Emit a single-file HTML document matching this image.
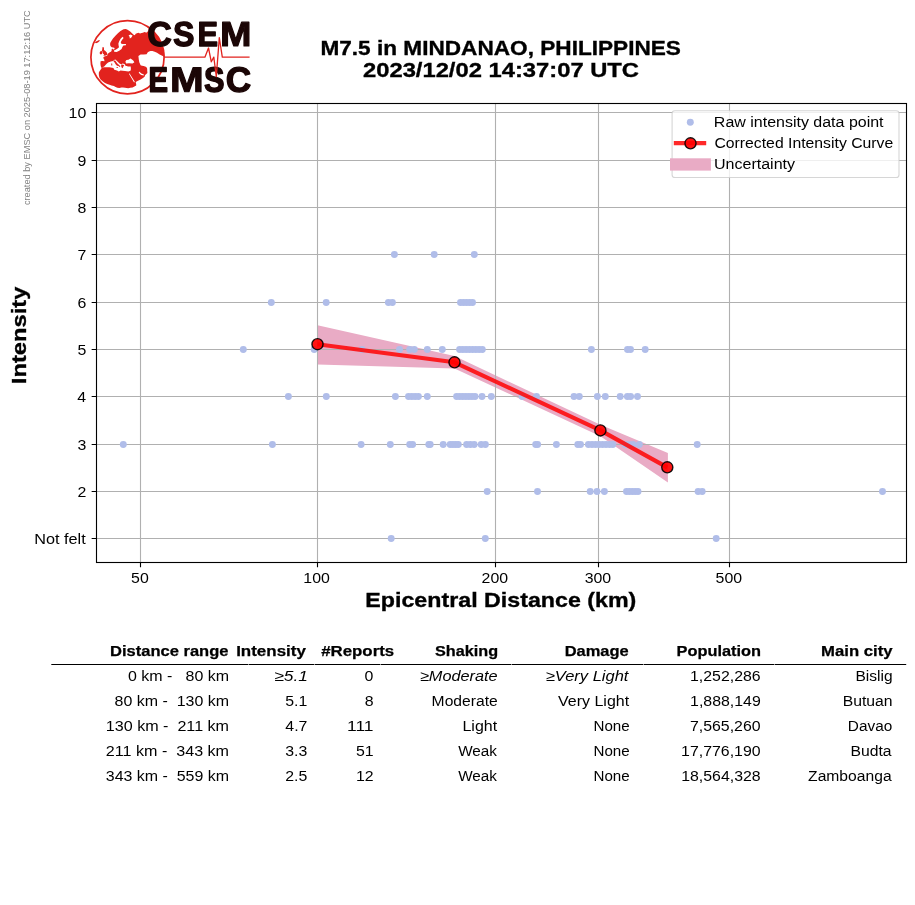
<!DOCTYPE html>
<html><head><meta charset="utf-8"><title>EMSC intensity</title>
<style>html,body{margin:0;padding:0;background:#fff;}svg{display:block;will-change:transform;}text{font-family:"Liberation Sans",sans-serif;white-space:pre;}</style>
</head><body>
<svg width="915" height="905" viewBox="0 0 915 905" font-family="Liberation Sans, sans-serif">
<rect x="0" y="0" width="915" height="905" fill="#fff"/>
<text x="0" y="0" font-size="9.54" font-weight="normal" font-style="normal" textLength="194.85" lengthAdjust="spacingAndGlyphs" fill="#808080" transform="translate(29.90,205.09) rotate(-90)" >created by EMSC on 2025-08-19 17:12:16 UTC</text>
<g><circle cx="127.5" cy="57.3" r="36.6" fill="none" stroke="#e2231e" stroke-width="1.7"/><path d="M111.7,47.3 L110.4,46.1 L110.1,44.5 L110.2,43.0 L111.5,40.8 L113.0,38.6 L115.2,35.9 L117.9,33.3 L120.5,31.1 L122.2,30.0 L123.6,29.3 L125.8,28.9 L127.6,29.7 L128.7,30.4 L130.2,31.6 L132.0,33.2 L133.6,34.8 L134.8,35.2 L135.7,33.8 L137.0,33.2 L138.4,32.8 L140.1,33.6 L141.5,33.0 L142.8,32.7 L144.6,32.0 L146.0,32.6 L146.8,32.6 L148.1,31.0 L148.8,28.6 A35.9,35.9 0 0 1 164.6,57.0 L162.2,55.8 L159.6,54.5 L157.0,52.7 L154.7,51.8 L152.5,51.0 L150.5,51.0 L149.0,51.4 L147.6,52.4 L146.6,54.3 L143.7,54.6 L140.6,54.4 L138.4,56.1 L138.8,59.5 L139.3,62.2 L140.6,65.3 L142.0,65.8 L143.7,66.1 L146.3,67.0 L147.2,68.8 L147.2,70.6 L147.4,73.0 L145.8,74.4 L145.0,75.2 L144.6,76.8 L142.6,78.2 L140.6,79.4 L138.0,80.8 L135.7,82.1 L136.2,84.2 L136.2,85.6 L134.4,86.6 L132.6,87.4 L130.4,87.8 L128.2,88.2 L125.0,87.8 L123.0,87.6 L121.4,87.4 L119.4,87.9 L117.4,87.8 L115.6,86.9 L113.9,86.0 L111.6,85.4 L109.5,84.7 L107.2,84.0 L105.0,83.0 L102.6,81.2 L100.6,79.4 L99.4,77.4 L98.9,75.4 L98.8,73.8 L98.9,72.3 L100.2,70.2 L101.5,68.4 L101.4,67.4 L100.8,66.2 L100.6,65.3 L100.4,63.4 L100.6,61.3 L102.2,61.0 L104.5,61.2 L104.2,59.6 L103.3,58.0 L103.6,57.0 L105.0,56.3 L106.6,56.0 L107.4,55.2 L108.1,53.6 L109.4,52.6 L110.8,51.8 L111.6,51.0 L111.6,49.6 L112.2,48.6 L113.2,49.4 L114.4,49.2 L114.6,48.4 L114.2,47.8 L113.0,47.6 Z M94.8,42.6 L96.5,41.2 L99.2,40.1 L99.9,40.7 L98.0,42.4 L96.0,43.3 Z M102.2,47.4 L103.6,47.0 L104.0,48.6 L104.0,50.0 L105.4,51.0 L106.8,52.6 L107.6,54.4 L106.0,55.4 L103.4,55.8 L104.2,54.6 L103.0,53.8 L102.8,52.2 L101.8,50.4 L102.4,49.0 Z M100.0,51.6 L101.8,51.0 L102.5,52.4 L102.0,54.0 L100.6,54.6 L99.6,53.2 Z" fill="#e2231e"/><path d="M122.6,36.8 L120.6,38.8 L119.2,41.2 L118.4,43.4 L118.6,45.6 L119.0,47.2 L117.6,48.6 L115.6,49.8 L113.9,50.6 L114.2,51.8 L116.6,51.9 L119.2,50.8 L121.6,49.0 L122.4,47.0 L123.4,45.6 L125.9,45.2 L126.0,43.9 L122.6,44.0 L121.0,43.4 L120.8,42.0 L122.0,40.0 L123.6,38.0 Z M128.6,35.4 L130.4,34.6 L132.6,35.6 L131.4,37.4 L129.8,38.4 L129.6,36.8 Z M102.0,67.6 L104.2,66.5 L106.4,64.0 L108.1,62.4 L110.8,61.6 L113.2,61.0 L114.0,60.0 L115.4,59.4 L117.5,61.6 L119.5,63.4 L121.2,64.2 L122.6,63.6 L124.5,64.0 L125.5,65.6 L128.0,66.6 L130.7,66.6 L130.9,68.8 L130.7,70.6 L128.5,71.4 L125.0,71.0 L122.6,70.8 L120.5,70.6 L118.8,71.4 L117.0,70.6 L114.3,69.7 L113.4,67.9 L109.5,67.2 L104.2,67.3 Z M125.4,61.4 L126.4,59.9 L128.5,59.8 L130.4,58.6 L132.0,59.4 L133.2,60.6 L134.4,62.2 L132.6,63.5 L129.0,63.2 L126.0,63.5 Z M128.9,73.8 L129.6,73.6 L134.8,81.8 L134.1,82.4 Z M138.6,72.0 L139.4,71.8 L141.4,73.6 L143.9,74.6 L143.7,75.5 L141.2,75.0 L139.6,73.8 Z" fill="#fff"/><path d="M113.6,60.4 L115.2,60.6 L117.2,63.2 L119.6,65.4 L120.4,66.4 L119.4,66.9 L118.6,66.0 L117.0,65.8 L115.6,64.2 L114.6,62.6 L113.6,61.4 Z M121.2,64.4 L123.2,64.8 L124.2,65.2 L123.4,66.5 L122.6,68.2 L121.6,67.6 L121.2,66.2 Z M116.4,67.0 L118.0,66.9 L117.6,67.9 L116.6,67.8 Z M111.2,63.6 L112.2,63.5 L112.3,65.5 L111.3,65.6 Z M125.4,64.0 L130.6,64.0 L130.6,66.0 L125.6,65.8 Z" fill="#e2231e"/><path d="M795 212Q1062 212 1166 480L1423 383Q1340 179 1179.5 79.5Q1019 -20 795 -20Q455 -20 269.5 172.5Q84 365 84 711Q84 1058 263.0 1244.0Q442 1430 782 1430Q1030 1430 1186.0 1330.5Q1342 1231 1405 1038L1145 967Q1112 1073 1015.5 1135.5Q919 1198 788 1198Q588 1198 484.5 1074.0Q381 950 381 711Q381 468 487.5 340.0Q594 212 795 212Z" fill="#1b0606" stroke="#1b0606" stroke-width="78.76" stroke-linejoin="round" transform="matrix(0.016505,0,0,-0.016828,147.364,45.913)"/><path d="M1286 406Q1286 199 1132.5 89.5Q979 -20 682 -20Q411 -20 257.0 76.0Q103 172 59 367L344 414Q373 302 457.0 251.5Q541 201 690 201Q999 201 999 389Q999 449 963.5 488.0Q928 527 863.5 553.0Q799 579 616 616Q458 653 396.0 675.5Q334 698 284.0 728.5Q234 759 199.0 802.0Q164 845 144.5 903.0Q125 961 125 1036Q125 1227 268.5 1328.5Q412 1430 686 1430Q948 1430 1079.5 1348.0Q1211 1266 1249 1077L963 1038Q941 1129 873.5 1175.0Q806 1221 680 1221Q412 1221 412 1053Q412 998 440.5 963.0Q469 928 525.0 903.5Q581 879 752 842Q955 799 1042.5 762.5Q1130 726 1181.0 677.5Q1232 629 1259.0 561.5Q1286 494 1286 406Z" fill="#1b0606" stroke="#1b0606" stroke-width="83.51" stroke-linejoin="round" transform="matrix(0.015566,0,0,-0.016828,173.132,45.913)"/><path d="M137 0V1409H1245V1181H432V827H1184V599H432V228H1286V0Z" fill="#1b0606" stroke="#1b0606" stroke-width="87.35" stroke-linejoin="round" transform="matrix(0.014883,0,0,-0.016891,197.611,45.950)"/><path d="M1307 0V854Q1307 883 1307.5 912.0Q1308 941 1317 1161Q1246 892 1212 786L958 0H748L494 786L387 1161Q399 929 399 854V0H137V1409H532L784 621L806 545L854 356L917 582L1176 1409H1569V0Z" fill="#1b0606" stroke="#1b0606" stroke-width="71.05" stroke-linejoin="round" transform="matrix(0.018296,0,0,-0.016891,220.143,45.950)"/><path d="M137 0V1409H1245V1181H432V827H1184V599H432V228H1286V0Z" fill="#1b0606" stroke="#1b0606" stroke-width="91.08" stroke-linejoin="round" transform="matrix(0.014273,0,0,-0.017246,148.495,91.750)"/><path d="M1307 0V854Q1307 883 1307.5 912.0Q1308 941 1317 1161Q1246 892 1212 786L958 0H748L494 786L387 1161Q399 929 399 854V0H137V1409H532L784 621L806 545L854 356L917 582L1176 1409H1569V0Z" fill="#1b0606" stroke="#1b0606" stroke-width="66.01" stroke-linejoin="round" transform="matrix(0.019693,0,0,-0.017246,170.052,91.750)"/><path d="M1286 406Q1286 199 1132.5 89.5Q979 -20 682 -20Q411 -20 257.0 76.0Q103 172 59 367L344 414Q373 302 457.0 251.5Q541 201 690 201Q999 201 999 389Q999 449 963.5 488.0Q928 527 863.5 553.0Q799 579 616 616Q458 653 396.0 675.5Q334 698 284.0 728.5Q234 759 199.0 802.0Q164 845 144.5 903.0Q125 961 125 1036Q125 1227 268.5 1328.5Q412 1430 686 1430Q948 1430 1079.5 1348.0Q1211 1266 1249 1077L963 1038Q941 1129 873.5 1175.0Q806 1221 680 1221Q412 1221 412 1053Q412 998 440.5 963.0Q469 928 525.0 903.5Q581 879 752 842Q955 799 1042.5 762.5Q1130 726 1181.0 677.5Q1232 629 1259.0 561.5Q1286 494 1286 406Z" fill="#1b0606" stroke="#1b0606" stroke-width="87.16" stroke-linejoin="round" transform="matrix(0.014914,0,0,-0.017172,204.070,91.707)"/><path d="M795 212Q1062 212 1166 480L1423 383Q1340 179 1179.5 79.5Q1019 -20 795 -20Q455 -20 269.5 172.5Q84 365 84 711Q84 1058 263.0 1244.0Q442 1430 782 1430Q1030 1430 1186.0 1330.5Q1342 1231 1405 1038L1145 967Q1112 1073 1015.5 1135.5Q919 1198 788 1198Q588 1198 484.5 1074.0Q381 950 381 711Q381 468 487.5 340.0Q594 212 795 212Z" fill="#1b0606" stroke="#1b0606" stroke-width="76.01" stroke-linejoin="round" transform="matrix(0.017102,0,0,-0.017172,225.813,91.707)"/><path d="M164.2,57.2 L204.9,57.2 L208.5,48.0 L211.3,61.8 L213.8,57.1 L216.3,76.6 L219.3,37.6 L222.3,57.1 L249.6,57.2" fill="none" stroke="#e2231e" stroke-width="1.3" stroke-linejoin="round"/></g>
<text x="320.40" y="55.00" font-size="20.60" font-weight="bold" font-style="normal" textLength="360.58" lengthAdjust="spacingAndGlyphs" fill="#000" stroke="#000" stroke-width="0.35" >M7.5 in MINDANAO, PHILIPPINES</text>
<text x="363.00" y="77.00" font-size="20.60" font-weight="bold" font-style="normal" textLength="276.03" lengthAdjust="spacingAndGlyphs" fill="#000" stroke="#000" stroke-width="0.35" >2023/12/02 14:37:07 UTC</text>
<path d="M317.50,325.30 L454.50,356.00 L600.40,424.70 L667.90,453.00 L667.90,482.50 L600.40,436.30 L454.50,368.50 L317.50,364.40 Z" fill="#e9abc5"/>
<path d="M140.50,103.50 V562.50 M317.50,103.50 V562.50 M495.50,103.50 V562.50 M598.50,103.50 V562.50 M729.50,103.50 V562.50 M96.50,538.50 H906.50 M96.50,491.50 H906.50 M96.50,444.50 H906.50 M96.50,396.50 H906.50 M96.50,349.50 H906.50 M96.50,302.50 H906.50 M96.50,254.50 H906.50 M96.50,207.50 H906.50 M96.50,160.50 H906.50 M96.50,112.50 H906.50" stroke="#b0b0b0" stroke-width="1.11" fill="none"/>
<g fill="#b0bde9"><circle cx="394.40" cy="254.50" r="3.47"/><circle cx="434.20" cy="254.50" r="3.47"/><circle cx="474.30" cy="254.50" r="3.47"/><circle cx="271.30" cy="302.50" r="3.47"/><circle cx="326.20" cy="302.50" r="3.47"/><circle cx="388.40" cy="302.50" r="3.47"/><circle cx="392.40" cy="302.50" r="3.47"/><circle cx="460.50" cy="302.50" r="3.47"/><circle cx="463.50" cy="302.50" r="3.47"/><circle cx="466.50" cy="302.50" r="3.47"/><circle cx="469.50" cy="302.50" r="3.47"/><circle cx="472.50" cy="302.50" r="3.47"/><circle cx="243.30" cy="349.50" r="3.47"/><circle cx="314.20" cy="349.50" r="3.47"/><circle cx="362.00" cy="349.50" r="3.47"/><circle cx="399.50" cy="349.50" r="3.47"/><circle cx="409.70" cy="349.50" r="3.47"/><circle cx="414.30" cy="349.50" r="3.47"/><circle cx="427.30" cy="349.50" r="3.47"/><circle cx="442.30" cy="349.50" r="3.47"/><circle cx="459.60" cy="349.50" r="3.47"/><circle cx="462.84" cy="349.50" r="3.47"/><circle cx="466.09" cy="349.50" r="3.47"/><circle cx="469.33" cy="349.50" r="3.47"/><circle cx="472.57" cy="349.50" r="3.47"/><circle cx="475.81" cy="349.50" r="3.47"/><circle cx="479.06" cy="349.50" r="3.47"/><circle cx="482.30" cy="349.50" r="3.47"/><circle cx="591.40" cy="349.50" r="3.47"/><circle cx="627.50" cy="349.50" r="3.47"/><circle cx="630.50" cy="349.50" r="3.47"/><circle cx="645.20" cy="349.50" r="3.47"/><circle cx="288.40" cy="396.50" r="3.47"/><circle cx="326.30" cy="396.50" r="3.47"/><circle cx="395.40" cy="396.50" r="3.47"/><circle cx="408.50" cy="396.50" r="3.47"/><circle cx="411.80" cy="396.50" r="3.47"/><circle cx="415.10" cy="396.50" r="3.47"/><circle cx="418.40" cy="396.50" r="3.47"/><circle cx="427.30" cy="396.50" r="3.47"/><circle cx="456.60" cy="396.50" r="3.47"/><circle cx="459.67" cy="396.50" r="3.47"/><circle cx="462.73" cy="396.50" r="3.47"/><circle cx="465.80" cy="396.50" r="3.47"/><circle cx="468.87" cy="396.50" r="3.47"/><circle cx="471.93" cy="396.50" r="3.47"/><circle cx="475.00" cy="396.50" r="3.47"/><circle cx="482.00" cy="396.50" r="3.47"/><circle cx="491.30" cy="396.50" r="3.47"/><circle cx="522.10" cy="396.50" r="3.47"/><circle cx="536.50" cy="396.50" r="3.47"/><circle cx="574.00" cy="396.50" r="3.47"/><circle cx="579.30" cy="396.50" r="3.47"/><circle cx="597.40" cy="396.50" r="3.47"/><circle cx="605.30" cy="396.50" r="3.47"/><circle cx="620.20" cy="396.50" r="3.47"/><circle cx="627.40" cy="396.50" r="3.47"/><circle cx="630.60" cy="396.50" r="3.47"/><circle cx="637.50" cy="396.50" r="3.47"/><circle cx="123.30" cy="444.50" r="3.47"/><circle cx="272.40" cy="444.50" r="3.47"/><circle cx="361.10" cy="444.50" r="3.47"/><circle cx="390.30" cy="444.50" r="3.47"/><circle cx="409.70" cy="444.50" r="3.47"/><circle cx="412.60" cy="444.50" r="3.47"/><circle cx="428.80" cy="444.50" r="3.47"/><circle cx="430.20" cy="444.50" r="3.47"/><circle cx="443.20" cy="444.50" r="3.47"/><circle cx="450.20" cy="444.50" r="3.47"/><circle cx="452.90" cy="444.50" r="3.47"/><circle cx="455.60" cy="444.50" r="3.47"/><circle cx="458.30" cy="444.50" r="3.47"/><circle cx="466.60" cy="444.50" r="3.47"/><circle cx="470.40" cy="444.50" r="3.47"/><circle cx="474.20" cy="444.50" r="3.47"/><circle cx="481.20" cy="444.50" r="3.47"/><circle cx="485.40" cy="444.50" r="3.47"/><circle cx="535.70" cy="444.50" r="3.47"/><circle cx="537.60" cy="444.50" r="3.47"/><circle cx="556.40" cy="444.50" r="3.47"/><circle cx="577.80" cy="444.50" r="3.47"/><circle cx="580.50" cy="444.50" r="3.47"/><circle cx="588.40" cy="444.50" r="3.47"/><circle cx="592.00" cy="444.50" r="3.47"/><circle cx="595.50" cy="444.50" r="3.47"/><circle cx="599.00" cy="444.50" r="3.47"/><circle cx="602.50" cy="444.50" r="3.47"/><circle cx="606.00" cy="444.50" r="3.47"/><circle cx="609.50" cy="444.50" r="3.47"/><circle cx="612.80" cy="444.50" r="3.47"/><circle cx="625.10" cy="444.50" r="3.47"/><circle cx="629.00" cy="444.50" r="3.47"/><circle cx="633.00" cy="444.50" r="3.47"/><circle cx="639.30" cy="444.50" r="3.47"/><circle cx="697.20" cy="444.50" r="3.47"/><circle cx="487.20" cy="491.50" r="3.47"/><circle cx="537.50" cy="491.50" r="3.47"/><circle cx="590.20" cy="491.50" r="3.47"/><circle cx="597.00" cy="491.50" r="3.47"/><circle cx="604.40" cy="491.50" r="3.47"/><circle cx="626.50" cy="491.50" r="3.47"/><circle cx="629.38" cy="491.50" r="3.47"/><circle cx="632.25" cy="491.50" r="3.47"/><circle cx="635.12" cy="491.50" r="3.47"/><circle cx="638.00" cy="491.50" r="3.47"/><circle cx="698.10" cy="491.50" r="3.47"/><circle cx="702.20" cy="491.50" r="3.47"/><circle cx="882.50" cy="491.50" r="3.47"/><circle cx="391.20" cy="538.50" r="3.47"/><circle cx="485.30" cy="538.50" r="3.47"/><circle cx="716.20" cy="538.50" r="3.47"/></g>
<path d="M317.50,344.20 L454.50,362.30 L600.40,430.40 L667.30,467.30" fill="none" stroke="#ff0000" stroke-opacity="0.84" stroke-width="4.17" stroke-linejoin="round" stroke-linecap="butt"/>
<circle cx="317.50" cy="344.20" r="5.55" fill="#ff0000" fill-opacity="0.92" stroke="#000" stroke-opacity="0.9" stroke-width="1.39"/>
<circle cx="454.50" cy="362.30" r="5.55" fill="#ff0000" fill-opacity="0.92" stroke="#000" stroke-opacity="0.9" stroke-width="1.39"/>
<circle cx="600.40" cy="430.40" r="5.55" fill="#ff0000" fill-opacity="0.92" stroke="#000" stroke-opacity="0.9" stroke-width="1.39"/>
<circle cx="667.30" cy="467.30" r="5.55" fill="#ff0000" fill-opacity="0.92" stroke="#000" stroke-opacity="0.9" stroke-width="1.39"/>
<rect x="96.50" y="103.50" width="810.00" height="459.00" fill="none" stroke="#000" stroke-width="1.11" stroke-linejoin="miter"/>
<path d="M140.50,562.50 v4.86 M317.50,562.50 v4.86 M495.50,562.50 v4.86 M598.50,562.50 v4.86 M729.50,562.50 v4.86 M96.50,538.50 h-4.86 M96.50,491.50 h-4.86 M96.50,444.50 h-4.86 M96.50,396.50 h-4.86 M96.50,349.50 h-4.86 M96.50,302.50 h-4.86 M96.50,254.50 h-4.86 M96.50,207.50 h-4.86 M96.50,160.50 h-4.86 M96.50,112.50 h-4.86" stroke="#000" stroke-width="1.11" fill="none"/>
<text x="131.06" y="582.80" font-size="14.72" font-weight="normal" font-style="normal" textLength="17.67" lengthAdjust="spacingAndGlyphs" fill="#000" >50</text>
<text x="303.35" y="582.80" font-size="14.72" font-weight="normal" font-style="normal" textLength="26.51" lengthAdjust="spacingAndGlyphs" fill="#000" >100</text>
<text x="481.56" y="582.80" font-size="14.72" font-weight="normal" font-style="normal" textLength="26.51" lengthAdjust="spacingAndGlyphs" fill="#000" >200</text>
<text x="584.65" y="582.80" font-size="14.72" font-weight="normal" font-style="normal" textLength="26.51" lengthAdjust="spacingAndGlyphs" fill="#000" >300</text>
<text x="715.64" y="582.80" font-size="14.72" font-weight="normal" font-style="normal" textLength="26.51" lengthAdjust="spacingAndGlyphs" fill="#000" >500</text>
<text x="34.23" y="543.90" font-size="14.72" font-weight="normal" font-style="normal" textLength="51.49" lengthAdjust="spacingAndGlyphs" fill="#000" >Not felt</text>
<text x="77.56" y="496.90" font-size="14.72" font-weight="normal" font-style="normal" textLength="8.84" lengthAdjust="spacingAndGlyphs" fill="#000" >2</text>
<text x="77.46" y="449.90" font-size="14.72" font-weight="normal" font-style="normal" textLength="8.84" lengthAdjust="spacingAndGlyphs" fill="#000" >3</text>
<text x="77.23" y="401.90" font-size="14.72" font-weight="normal" font-style="normal" textLength="8.84" lengthAdjust="spacingAndGlyphs" fill="#000" >4</text>
<text x="77.43" y="354.90" font-size="14.72" font-weight="normal" font-style="normal" textLength="8.84" lengthAdjust="spacingAndGlyphs" fill="#000" >5</text>
<text x="77.46" y="307.90" font-size="14.72" font-weight="normal" font-style="normal" textLength="8.84" lengthAdjust="spacingAndGlyphs" fill="#000" >6</text>
<text x="77.56" y="259.90" font-size="14.72" font-weight="normal" font-style="normal" textLength="8.84" lengthAdjust="spacingAndGlyphs" fill="#000" >7</text>
<text x="77.45" y="212.90" font-size="14.72" font-weight="normal" font-style="normal" textLength="8.84" lengthAdjust="spacingAndGlyphs" fill="#000" >8</text>
<text x="77.52" y="165.90" font-size="14.72" font-weight="normal" font-style="normal" textLength="8.84" lengthAdjust="spacingAndGlyphs" fill="#000" >9</text>
<text x="68.55" y="117.90" font-size="14.72" font-weight="normal" font-style="normal" textLength="17.67" lengthAdjust="spacingAndGlyphs" fill="#000" >10</text>
<text x="365.33" y="606.80" font-size="20.60" font-weight="bold" font-style="normal" textLength="270.95" lengthAdjust="spacingAndGlyphs" fill="#000" stroke="#000" stroke-width="0.35" >Epicentral Distance (km)</text>
<text x="0" y="0" font-size="20.60" font-weight="bold" font-style="normal" textLength="97.61" lengthAdjust="spacingAndGlyphs" fill="#000" stroke="#000" stroke-width="0.35" transform="translate(26.10,384.14) rotate(-90)" >Intensity</text>
<rect x="672.10" y="110.70" width="226.90" height="66.80" rx="2.8" ry="2.8" fill="#fff" fill-opacity="0.8" stroke="#cccccc" stroke-opacity="0.8" stroke-width="1.11"/>
<circle cx="690.3" cy="122.3" r="3.47" fill="#b0bde9"/>
<path d="M673.8,143.1 H706.2" stroke="#ff0000" stroke-opacity="0.84" stroke-width="4.17"/>
<circle cx="690.5" cy="143.3" r="5.55" fill="#ff0000" fill-opacity="0.92" stroke="#000" stroke-opacity="0.9" stroke-width="1.39"/>
<rect x="670.0" y="158.3" width="40.9" height="12.3" fill="#e9abc5"/>
<text x="713.89" y="126.60" font-size="14.72" font-weight="normal" font-style="normal" textLength="169.68" lengthAdjust="spacingAndGlyphs" fill="#000" >Raw intensity data point</text>
<text x="714.40" y="147.60" font-size="14.72" font-weight="normal" font-style="normal" textLength="178.86" lengthAdjust="spacingAndGlyphs" fill="#000" >Corrected Intensity Curve</text>
<text x="713.96" y="168.60" font-size="14.72" font-weight="normal" font-style="normal" textLength="81.14" lengthAdjust="spacingAndGlyphs" fill="#000" >Uncertainty</text>
<path d="M51.3,664.5 H906.2" stroke="#000" stroke-width="1.11"/>
<g fill="#8e8e8e"><rect x="248" y="664" width="1" height="1"/><rect x="314" y="664" width="1" height="1"/><rect x="380" y="664" width="1" height="1"/><rect x="511" y="664" width="1" height="1"/><rect x="643" y="664" width="1" height="1"/><rect x="774" y="664" width="1" height="1"/></g>
<text x="110.05" y="656.00" font-size="14.72" font-weight="bold" font-style="normal" textLength="118.41" lengthAdjust="spacingAndGlyphs" fill="#000" stroke="#000" stroke-width="0.25" >Distance range</text>
<text x="236.17" y="656.00" font-size="14.72" font-weight="bold" font-style="normal" textLength="69.72" lengthAdjust="spacingAndGlyphs" fill="#000" stroke="#000" stroke-width="0.25" >Intensity</text>
<text x="321.20" y="656.00" font-size="14.72" font-weight="bold" font-style="normal" textLength="72.99" lengthAdjust="spacingAndGlyphs" fill="#000" stroke="#000" stroke-width="0.25" >#Reports</text>
<text x="435.00" y="656.00" font-size="14.72" font-weight="bold" font-style="normal" textLength="63.09" lengthAdjust="spacingAndGlyphs" fill="#000" stroke="#000" stroke-width="0.25" >Shaking</text>
<text x="564.66" y="656.00" font-size="14.72" font-weight="bold" font-style="normal" textLength="64.11" lengthAdjust="spacingAndGlyphs" fill="#000" stroke="#000" stroke-width="0.25" >Damage</text>
<text x="676.50" y="656.00" font-size="14.72" font-weight="bold" font-style="normal" textLength="84.51" lengthAdjust="spacingAndGlyphs" fill="#000" stroke="#000" stroke-width="0.25" >Population</text>
<text x="821.13" y="656.00" font-size="14.72" font-weight="bold" font-style="normal" textLength="71.36" lengthAdjust="spacingAndGlyphs" fill="#000" stroke="#000" stroke-width="0.25" >Main city</text>
<text x="127.90" y="680.60" font-size="14.72" font-weight="normal" font-style="normal" textLength="101.16" lengthAdjust="spacingAndGlyphs" fill="#000" xml:space="preserve">0 km -   80 km</text>
<text x="274.34" y="680.60" font-size="14.72" font-weight="normal" font-style="italic" textLength="33.73" lengthAdjust="spacingAndGlyphs" fill="#000" xml:space="preserve">≥5.1</text>
<text x="364.58" y="680.60" font-size="14.72" font-weight="normal" font-style="normal" textLength="8.84" lengthAdjust="spacingAndGlyphs" fill="#000" xml:space="preserve">0</text>
<text x="419.91" y="680.60" font-size="14.72" font-weight="normal" font-style="italic" textLength="77.69" lengthAdjust="spacingAndGlyphs" fill="#000" xml:space="preserve">≥Moderate</text>
<text x="545.74" y="680.60" font-size="14.72" font-weight="normal" font-style="italic" textLength="82.69" lengthAdjust="spacingAndGlyphs" fill="#000" xml:space="preserve">≥Very Light</text>
<text x="690.01" y="680.60" font-size="14.72" font-weight="normal" font-style="normal" textLength="70.69" lengthAdjust="spacingAndGlyphs" fill="#000" xml:space="preserve">1,252,286</text>
<text x="855.45" y="680.60" font-size="14.72" font-weight="normal" font-style="normal" textLength="37.16" lengthAdjust="spacingAndGlyphs" fill="#000" xml:space="preserve">Bislig</text>
<text x="114.64" y="705.60" font-size="14.72" font-weight="normal" font-style="normal" textLength="114.41" lengthAdjust="spacingAndGlyphs" fill="#000" xml:space="preserve">80 km -  130 km</text>
<text x="285.29" y="705.60" font-size="14.72" font-weight="normal" font-style="normal" textLength="22.09" lengthAdjust="spacingAndGlyphs" fill="#000" xml:space="preserve">5.1</text>
<text x="364.65" y="705.60" font-size="14.72" font-weight="normal" font-style="normal" textLength="8.84" lengthAdjust="spacingAndGlyphs" fill="#000" xml:space="preserve">8</text>
<text x="431.64" y="705.60" font-size="14.72" font-weight="normal" font-style="normal" textLength="66.05" lengthAdjust="spacingAndGlyphs" fill="#000" xml:space="preserve">Moderate</text>
<text x="558.06" y="705.60" font-size="14.72" font-weight="normal" font-style="normal" textLength="71.05" lengthAdjust="spacingAndGlyphs" fill="#000" xml:space="preserve">Very Light</text>
<text x="690.07" y="705.60" font-size="14.72" font-weight="normal" font-style="normal" textLength="70.69" lengthAdjust="spacingAndGlyphs" fill="#000" xml:space="preserve">1,888,149</text>
<text x="842.73" y="705.60" font-size="14.72" font-weight="normal" font-style="normal" textLength="49.89" lengthAdjust="spacingAndGlyphs" fill="#000" xml:space="preserve">Butuan</text>
<text x="105.80" y="730.60" font-size="14.72" font-weight="normal" font-style="normal" textLength="123.25" lengthAdjust="spacingAndGlyphs" fill="#000" xml:space="preserve">130 km -  211 km</text>
<text x="285.31" y="730.60" font-size="14.72" font-weight="normal" font-style="normal" textLength="22.09" lengthAdjust="spacingAndGlyphs" fill="#000" xml:space="preserve">4.7</text>
<text x="347.07" y="730.60" font-size="14.72" font-weight="normal" font-style="normal" textLength="26.51" lengthAdjust="spacingAndGlyphs" fill="#000" xml:space="preserve">111</text>
<text x="462.46" y="730.60" font-size="14.72" font-weight="normal" font-style="normal" textLength="34.66" lengthAdjust="spacingAndGlyphs" fill="#000" xml:space="preserve">Light</text>
<text x="593.44" y="730.60" font-size="14.72" font-weight="normal" font-style="normal" textLength="36.23" lengthAdjust="spacingAndGlyphs" fill="#000" xml:space="preserve">None</text>
<text x="689.94" y="730.60" font-size="14.72" font-weight="normal" font-style="normal" textLength="70.69" lengthAdjust="spacingAndGlyphs" fill="#000" xml:space="preserve">7,565,260</text>
<text x="847.81" y="730.60" font-size="14.72" font-weight="normal" font-style="normal" textLength="44.43" lengthAdjust="spacingAndGlyphs" fill="#000" xml:space="preserve">Davao</text>
<text x="105.80" y="755.60" font-size="14.72" font-weight="normal" font-style="normal" textLength="123.25" lengthAdjust="spacingAndGlyphs" fill="#000" xml:space="preserve">211 km -  343 km</text>
<text x="285.21" y="755.60" font-size="14.72" font-weight="normal" font-style="normal" textLength="22.09" lengthAdjust="spacingAndGlyphs" fill="#000" xml:space="preserve">3.3</text>
<text x="355.90" y="755.60" font-size="14.72" font-weight="normal" font-style="normal" textLength="17.67" lengthAdjust="spacingAndGlyphs" fill="#000" xml:space="preserve">51</text>
<text x="458.15" y="755.60" font-size="14.72" font-weight="normal" font-style="normal" textLength="38.83" lengthAdjust="spacingAndGlyphs" fill="#000" xml:space="preserve">Weak</text>
<text x="593.44" y="755.60" font-size="14.72" font-weight="normal" font-style="normal" textLength="36.23" lengthAdjust="spacingAndGlyphs" fill="#000" xml:space="preserve">None</text>
<text x="681.10" y="755.60" font-size="14.72" font-weight="normal" font-style="normal" textLength="79.52" lengthAdjust="spacingAndGlyphs" fill="#000" xml:space="preserve">17,776,190</text>
<text x="850.50" y="755.60" font-size="14.72" font-weight="normal" font-style="normal" textLength="41.10" lengthAdjust="spacingAndGlyphs" fill="#000" xml:space="preserve">Budta</text>
<text x="105.80" y="780.60" font-size="14.72" font-weight="normal" font-style="normal" textLength="123.25" lengthAdjust="spacingAndGlyphs" fill="#000" xml:space="preserve">343 km -  559 km</text>
<text x="285.18" y="780.60" font-size="14.72" font-weight="normal" font-style="normal" textLength="22.09" lengthAdjust="spacingAndGlyphs" fill="#000" xml:space="preserve">2.5</text>
<text x="355.93" y="780.60" font-size="14.72" font-weight="normal" font-style="normal" textLength="17.67" lengthAdjust="spacingAndGlyphs" fill="#000" xml:space="preserve">12</text>
<text x="458.15" y="780.60" font-size="14.72" font-weight="normal" font-style="normal" textLength="38.83" lengthAdjust="spacingAndGlyphs" fill="#000" xml:space="preserve">Weak</text>
<text x="593.44" y="780.60" font-size="14.72" font-weight="normal" font-style="normal" textLength="36.23" lengthAdjust="spacingAndGlyphs" fill="#000" xml:space="preserve">None</text>
<text x="681.17" y="780.60" font-size="14.72" font-weight="normal" font-style="normal" textLength="79.52" lengthAdjust="spacingAndGlyphs" fill="#000" xml:space="preserve">18,564,328</text>
<text x="808.09" y="780.60" font-size="14.72" font-weight="normal" font-style="normal" textLength="83.51" lengthAdjust="spacingAndGlyphs" fill="#000" xml:space="preserve">Zamboanga</text>
</svg>
</body></html>
